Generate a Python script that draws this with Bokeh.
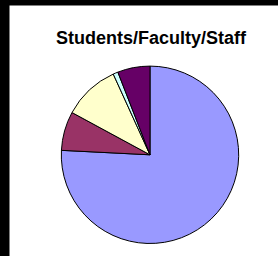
import numpy as np
from bokeh.plotting import figure
from bokeh.models import Range1d, GlobalInlineStyleSheet, ColumnDataSource
from bokeh.core.properties import value
from bokeh.embed import file_html
from bokeh.resources import INLINE

title = "Students/Faculty/Staff"
categories = ["A", "B", "C", "D", "E"]
shares = [75.8, 7.1, 10.3, 0.9, 5.9]
colors = ["#9999FF", "#993366", "#FFFFCC", "#CCFFFF", "#660066"]

W, H = 269, 251
p = figure(width=W, height=H, output_backend="svg", toolbar_location=None,
           x_range=Range1d(0, W), y_range=Range1d(0, H),
           min_border=0, outline_line_color=None,
           background_fill_color="white", border_fill_color="white")
p.axis.visible = False
p.grid.visible = False
p.stylesheets = [GlobalInlineStyleSheet(css="html, body { background: #000000; margin: 0; } body { padding: 5px 0 0 9px; }")]

vals = np.array(shares, dtype=float)
frac = vals / vals.sum() * 2 * np.pi
cum = np.concatenate([[0], np.cumsum(frac)])
start = np.pi / 2 - cum[1:]
end = np.pi / 2 - cum[:-1]
src = ColumnDataSource(dict(cat=categories, start=start, end=end, color=colors))

cx, cy, r = 140.5, 101.7, 88.7
p.wedge(x=cx, y=cy, radius=r, start_angle="start", end_angle="end",
        fill_color="color", line_color="black", line_width=1, source=src)

p.text(x=[141.5], y=[219], text=[title], text_font=value("Liberation Sans"),
       text_font_style="bold", text_font_size="18px", text_align="center",
       text_baseline="alphabetic", text_color="black")

open("out.html", "w").write(file_html(p, INLINE))
